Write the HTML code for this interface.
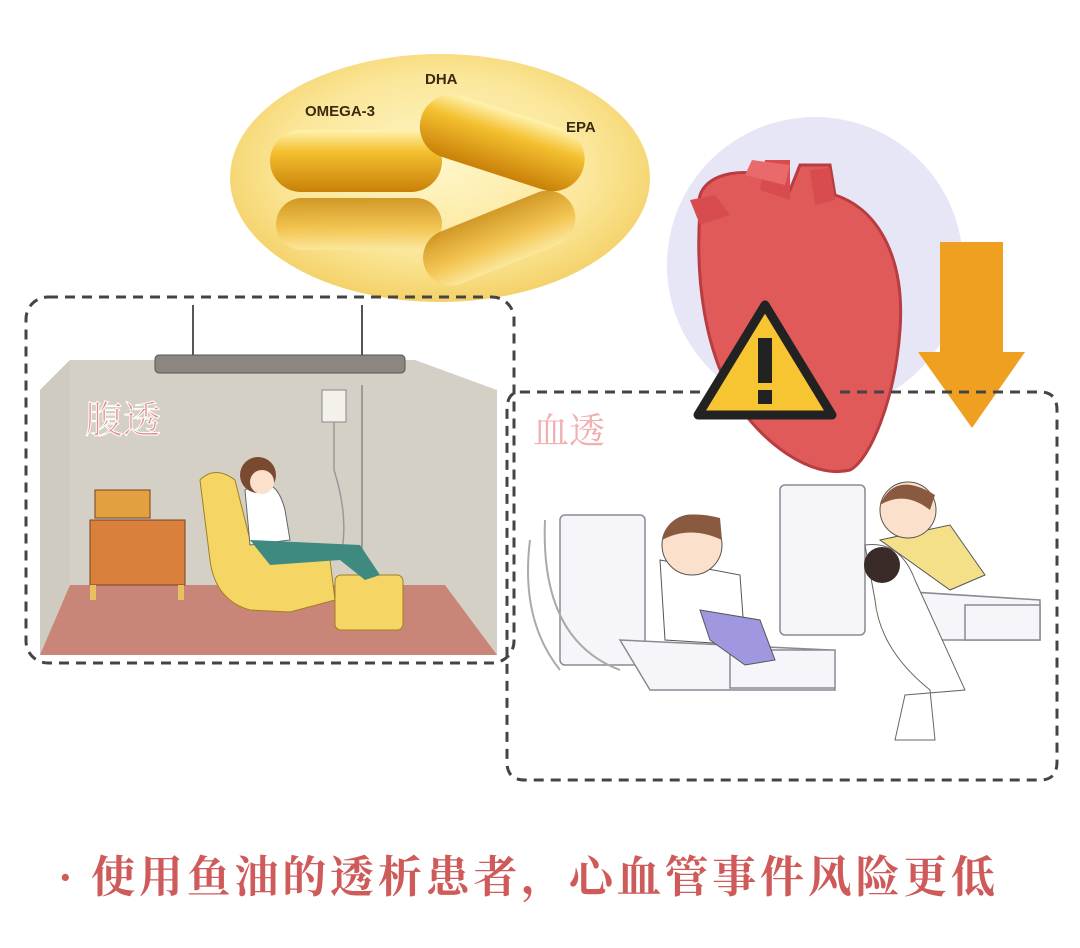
<!DOCTYPE html>
<html><head><meta charset="utf-8"><style>
html,body{margin:0;padding:0;background:#fff;width:1080px;height:948px;overflow:hidden}
svg{display:block}
</style></head><body>
<svg width="1080" height="948" viewBox="0 0 1080 948" xmlns="http://www.w3.org/2000/svg">
<defs>
<radialGradient id="yel" cx="0.5" cy="0.45" r="0.6">
<stop offset="0" stop-color="#fff6c8"/><stop offset="0.6" stop-color="#fbe79a"/><stop offset="1" stop-color="#f2cc5c"/>
</radialGradient>
<linearGradient id="cap" x1="0" y1="0" x2="0" y2="1">
<stop offset="0" stop-color="#fff3b0"/><stop offset="0.35" stop-color="#f4c030"/><stop offset="1" stop-color="#c98008"/>
</linearGradient>
<linearGradient id="capr" x1="0" y1="0" x2="0" y2="1">
<stop offset="0" stop-color="#c98a10"/><stop offset="0.6" stop-color="#f2c048"/><stop offset="1" stop-color="#fbe9a0"/>
</linearGradient>
</defs>
<!-- capsule ellipse -->
<ellipse cx="440" cy="178" rx="210" ry="124" fill="url(#yel)"/>
<rect x="270" y="130" width="172" height="62" rx="31" fill="url(#cap)"/>
<rect x="276" y="198" width="166" height="52" rx="26" fill="url(#capr)" opacity="0.85"/>
<g transform="rotate(18 500 140)"><rect x="418" y="110" width="170" height="64" rx="32" fill="url(#cap)"/></g>
<g transform="rotate(-22 500 240)"><rect x="420" y="210" width="160" height="56" rx="28" fill="url(#capr)" opacity="0.85"/></g>
<text x="305" y="116" font-family="Liberation Sans, sans-serif" font-size="15" font-weight="bold" fill="#3a2a10">OMEGA-3</text>
<text x="425" y="84" font-family="Liberation Sans, sans-serif" font-size="15" font-weight="bold" fill="#3a2a10">DHA</text>
<text x="566" y="132" font-family="Liberation Sans, sans-serif" font-size="15" font-weight="bold" fill="#3a2a10">EPA</text>

<!-- heart circle -->
<circle cx="815" cy="265" r="148" fill="#e6e6f7"/>
<path d="M700 210 C690 170 760 160 790 190 L800 165 L830 165 L835 195 C880 210 905 260 900 330 C895 400 870 460 850 470 C810 480 760 440 735 400 C705 350 695 280 700 210Z" fill="#e05a5a" stroke="#b83c40" stroke-width="3"/>
<path d="M760 190 L765 160 L790 160 L790 200Z M810 170 L830 168 L835 200 L815 205Z M700 225 L690 200 L715 195 L730 215Z" fill="#d84c50"/>
<path d="M745 175 L752 160 L790 165 L785 185Z" fill="#e86a6a"/>
<!-- arrow -->
<path d="M940 242 L1003 242 L1003 352 L1025 352 L972 428 L918 352 L940 352Z" fill="#f0a020"/>
<!-- warning -->
<path d="M765 305 L832 415 L698 415Z" fill="#f7c432" stroke="#222" stroke-width="9" stroke-linejoin="round"/>
<rect x="758" y="338" width="14" height="45" fill="#222"/>
<rect x="758" y="390" width="14" height="14" fill="#222"/>

<!-- left box -->
<rect x="26" y="297" width="488" height="366" rx="22" fill="none" stroke="#444" stroke-width="3" stroke-dasharray="10 7"/>
<polygon points="70,360 415,360 497,390 497,655 40,655 40,390" fill="#d4d0c6"/>
<polygon points="70,360 70,585 40,655 40,390" fill="#cfcbc0"/>
<polygon points="70,585 445,585 497,655 40,655" fill="#c98578"/>
<line x1="193" y1="305" x2="193" y2="355" stroke="#555" stroke-width="2"/>
<line x1="362" y1="305" x2="362" y2="355" stroke="#555" stroke-width="2"/>
<rect x="155" y="355" width="250" height="18" rx="4" fill="#8c8680" stroke="#555"/>
<text x="85" y="433" font-family="Liberation Serif, 'Noto Serif CJK SC', serif" font-size="38" fill="#e78a8a" stroke="#fff" stroke-width="1">腹透</text>
<!-- iv -->
<rect x="322" y="390" width="24" height="32" fill="#f4f0ea" stroke="#888"/>
<path d="M334 422 L334 470 Q350 520 340 560" fill="none" stroke="#999" stroke-width="1.5"/>
<line x1="362" y1="385" x2="362" y2="570" stroke="#888" stroke-width="1.5"/>
<!-- cabinet -->
<rect x="90" y="520" width="95" height="65" fill="#d8803c" stroke="#7a4020"/>
<rect x="95" y="490" width="55" height="28" fill="#e2a040" stroke="#7a4020"/>
<rect x="90" y="585" width="6" height="15" fill="#e8c060"/><rect x="178" y="585" width="6" height="15" fill="#e8c060"/>
<!-- chair -->
<path d="M200 480 Q215 465 235 480 L250 540 L330 560 L335 600 L290 612 L250 610 Q215 600 210 560Z" fill="#f5d564" stroke="#a08020"/>
<rect x="335" y="575" width="68" height="55" rx="6" fill="#f5d564" stroke="#a08020"/>
<path d="M245 490 Q275 470 285 510 L290 540 L250 545Z" fill="#fff" stroke="#666"/>
<path d="M250 540 L360 545 L380 575 L365 580 L340 560 L270 565Z" fill="#3e8a80"/>
<circle cx="258" cy="475" r="18" fill="#7a4a30"/>
<circle cx="262" cy="482" r="12" fill="#fbe0cc"/>

<!-- right box -->
<path d="M520 392 L700 392 M840 392 L1040 392 Q1057 392 1057 410 L1057 762 Q1057 780 1040 780 L525 780 Q507 780 507 762 L507 410 Q507 392 520 392" fill="none" stroke="#444" stroke-width="3" stroke-dasharray="10 7"/>
<text x="533" y="443" font-family="Liberation Serif, 'Noto Serif CJK SC', serif" font-size="36" fill="#f0b0b0">血透</text>
<!-- machines & beds -->
<g fill="#f6f6fa" stroke="#8a8a95" stroke-width="1.5">
<rect x="560" y="515" width="85" height="150" rx="5"/>
<rect x="780" y="485" width="85" height="150" rx="5"/>
<path d="M620 640 L830 650 L835 690 L650 690Z"/>
<path d="M880 590 L1040 600 L1040 640 L900 640Z"/>
<rect x="730" y="650" width="105" height="38"/>
<rect x="965" y="605" width="75" height="35"/>
</g>
<path d="M530 540 Q520 620 560 670 M545 520 Q540 640 620 670" fill="none" stroke="#aaa" stroke-width="2"/>
<path d="M660 560 L740 575 L745 645 L665 640Z" fill="#fff" stroke="#555"/>
<path d="M700 610 L760 620 L775 660 L745 665 L710 640Z" fill="#9f98e0" stroke="#555"/>
<circle cx="692" cy="545" r="30" fill="#fbe0cc" stroke="#555"/>
<path d="M662 540 Q670 505 720 518 L722 540 Q690 525 662 540Z" fill="#8a5a40"/>
<path d="M880 540 L950 525 L985 575 L950 590Z" fill="#f5e08a" stroke="#555"/>
<circle cx="908" cy="510" r="28" fill="#fbe0cc" stroke="#555"/>
<path d="M880 505 Q895 470 935 495 L930 510 Q905 490 880 505Z" fill="#8a5a40"/>
<path d="M865 545 Q900 540 915 580 L965 690 L905 695 L895 740 L935 740 L930 690 Q880 650 875 600Z" fill="#fff" stroke="#666"/>
<circle cx="882" cy="565" r="18" fill="#3a2a28"/>

<!-- bottom text -->
<text x="58" y="892" font-family="Liberation Serif, 'Noto Serif CJK SC', serif" font-size="44" font-weight="bold" fill="#cf5a5a" textLength="937" lengthAdjust="spacing">· 使用鱼油的透析患者，心血管事件风险更低</text>
</svg>
</body></html>
